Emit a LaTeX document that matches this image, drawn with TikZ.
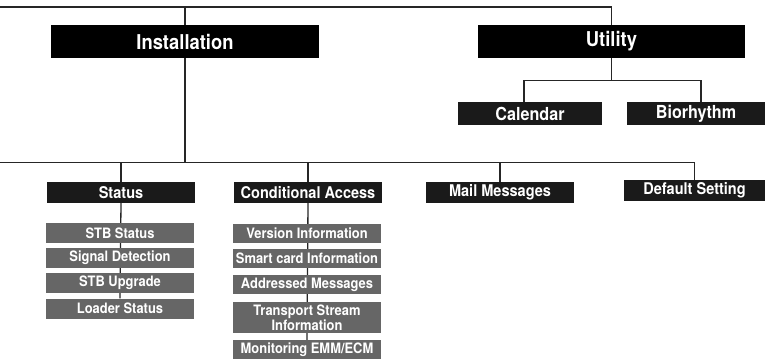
\documentclass[tikz,border=0pt]{standalone}
\usepackage{fontspec}
\setmainfont[FakeStretch=0.9]{TeX Gyre Heros}
\usepackage{xcolor}
\usepackage{tikz}
\usetikzlibrary{backgrounds}
\definecolor{topbox}{RGB}{0,0,0}
\definecolor{levelbox}{RGB}{26,26,26}
\definecolor{itembox}{RGB}{102,102,102}
\tikzset{
  topnode/.style={fill=topbox,text=white,font=\fontsize{20.5}{22}\selectfont\bfseries,
    minimum width=267bp,minimum height=33bp,inner sep=0pt},
  levelnode/.style={fill=levelbox,text=white,font=\fontsize{16.2}{17}\selectfont\bfseries,
    minimum width=148bp,minimum height=21bp,inner sep=0pt},
  utilnode/.style={levelnode,font=\fontsize{18}{19}\selectfont\bfseries,minimum height=23bp},
  itemnode/.style={fill=itembox,text=white,font=\fontsize{14.4}{13.5}\selectfont\bfseries,
    minimum width=148bp,minimum height=20bp,inner sep=0pt,align=center},
  wire/.style={line width=1.3bp,black!85}
}

\begin{document}
\begin{tikzpicture}[x=1bp,y=-1bp]
  \useasboundingbox (0,0) rectangle (765,361);
  % main menu
  \node[topnode] (inst) at (185,41.5) {Installation};
  \node[topnode] (util) at (611.5,41.5) {Utility};
  \node[utilnode,minimum width=144bp] (cal) at (530,113.5) {Calendar};
  \node[utilnode,minimum width=138bp] (bio) at (696,113.5) {Biorhythm};
  % installation sub menus
  \node[levelnode] (status) at (121,192.5) {Status};
  \node[levelnode] (ca) at (308,192.5) {Conditional Access};
  \node[levelnode] (mail) at (500,192.5) {Mail Messages};
  \node[levelnode,minimum width=141bp] (deflt) at (694.5,190.5) {Default Setting};
  \foreach \n/\t/\y in {stb/STB Status/233,sig/Signal Detection/258,
                        upg/STB Upgrade/283,ldr/Loader Status/308.5}
    \node[itemnode] (\n) at (120,\y) {\t};
  \foreach \n/\t/\y in {ver/Version Information/233,smc/Smart card Information/258.5,
                        adr/Addressed Messages/284.5,mon/{Monitoring EMM/ECM}/349.5}
    \node[itemnode,minimum height=19bp] (\n) at (307,\y) {\t};
  \node[itemnode,minimum height=31bp] (tsi) at (307,317.5) {Transport Stream\\Information};
  % connectors
  \coordinate (topbus) at (0,7);
  \coordinate (lowbus) at (0,162.5);
  \begin{scope}[on background layer]
    \draw[wire] (topbus) -| (util.north);
    \draw[wire] (inst.center |- topbus) -- (inst.center |- lowbus);
    \draw[wire] (util.south) -- ++(0,22) coordinate (usplit);
    \draw[wire] ([xshift=-6bp]cal.north) |- (usplit) -| ([xshift=5bp]bio.north);
    \draw[wire] (lowbus) -| (deflt.north);
    \foreach \m in {status,ca,mail}
      \draw[wire] (\m.north |- lowbus) -- (\m.north);
    \draw[wire] (status.south) -- (ldr.north);
    \draw[wire] (ca.south) -- (mon.north);
  \end{scope}
\end{tikzpicture}
\end{document}
